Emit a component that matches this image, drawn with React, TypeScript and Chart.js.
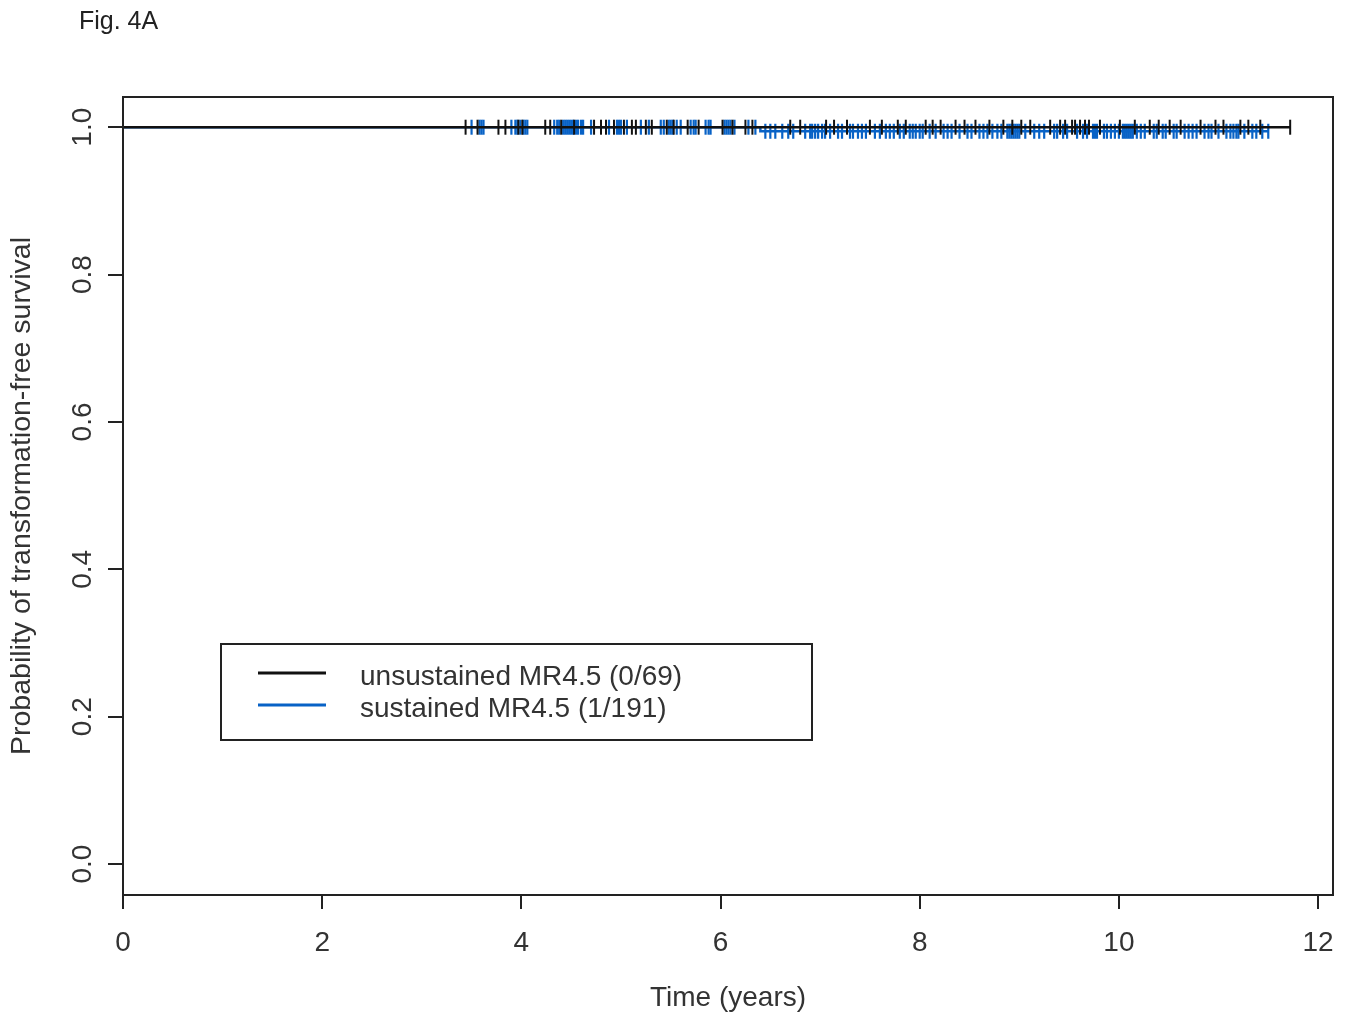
import React, { useEffect, useRef } from 'react';
import { Chart, registerables } from 'chart.js';

Chart.register(...registerables);

// ---- data ----
const figLabel = 'Fig. 4A';
const xTitle = 'Time (years)';
const yTitle = 'Probability of transformation-free survival';
const xTicks = [0, 2, 4, 6, 8, 10, 12];
const yTicks = [0, 0.2, 0.4, 0.6, 0.8, 1.0];
const seriesLabels = ['unsustained MR4.5 (0/69)', 'sustained MR4.5 (1/191)'];
const seriesColors = ['#111111', '#0862c6'];

// unsustained: no events, survival stays 1.0
const unsustainedEventTimes: number[] = [];
const unsustainedSurvival = [1.0];
const unsustainedEnd = 11.72;
const unsustainedCensor = [
  3.44, 3.56, 3.77, 3.84, 3.97, 4.01, 4.24, 4.29, 4.40, 4.53, 4.73, 4.80, 4.85, 4.93,
  5.03, 5.11, 5.15, 5.25, 5.31, 5.46, 5.53, 5.67, 5.78, 6.02, 6.12, 6.25, 6.32,
  6.70, 6.80, 7.06, 7.14, 7.27, 7.50, 7.62, 7.78, 7.86, 8.06, 8.13, 8.21, 8.36, 8.45,
  8.56, 8.70, 8.84, 8.93, 9.02, 9.11, 9.31, 9.41, 9.46, 9.53, 9.56, 9.61, 9.66, 9.70,
  9.81, 10.01, 10.16, 10.31, 10.40, 10.51, 10.62, 10.82, 10.97, 11.05, 11.22, 11.30,
  11.42, 11.72,
];

// sustained: one event
const sustainedEventTimes = [6.40];
const sustainedSurvival = [1.0, 0.9945];
const sustainedEnd = 11.5;
const sustainedCensor = [
  3.50, 3.58, 3.60, 3.62, 3.90, 3.94, 3.96, 3.99, 4.02, 4.04, 4.06, 4.33, 4.36, 4.38,
  4.42, 4.44, 4.46, 4.48, 4.50, 4.52, 4.55, 4.57, 4.60, 4.62, 4.70, 4.88, 4.96, 4.98,
  5.00, 5.06, 5.20, 5.28, 5.40, 5.43, 5.48, 5.50, 5.52, 5.56, 5.60, 5.70, 5.73, 5.75,
  5.85, 5.88, 5.90, 6.04, 6.06, 6.08, 6.10, 6.14, 6.28, 6.35,
  6.45, 6.50, 6.55, 6.62, 6.68, 6.73, 6.85, 6.90, 6.92, 6.95, 6.98, 7.02, 7.05, 7.10,
  7.18, 7.22, 7.30, 7.33, 7.38, 7.42, 7.46, 7.55, 7.60, 7.66, 7.70, 7.74, 7.80, 7.84,
  7.90, 7.93, 7.96, 8.00, 8.03, 8.10, 8.16, 8.24, 8.28, 8.32, 8.40, 8.48, 8.52, 8.60,
  8.64, 8.68, 8.73, 8.78, 8.82, 8.88, 8.90, 8.92, 8.94, 8.96, 8.98, 9.00, 9.06, 9.15,
  9.20, 9.25, 9.35, 9.38, 9.44, 9.48, 9.58, 9.64, 9.68, 9.74, 9.76, 9.78, 9.85, 9.88,
  9.92, 9.96, 10.00, 10.04, 10.06, 10.08, 10.10, 10.12, 10.14, 10.18, 10.22, 10.26,
  10.35, 10.38, 10.44, 10.47, 10.55, 10.58, 10.66, 10.70, 10.74, 10.78, 10.86, 10.90,
  10.93, 11.00, 11.08, 11.12, 11.15, 11.18, 11.20, 11.26, 11.34, 11.38, 11.44, 11.50,
];

// ---- helpers ----
const survAt = (t: number, events: number[], surv: number[]) => {
  let k = 0;
  for (const e of events) if (e <= t) k++;
  return surv[k];
};
const stepPoints = (events: number[], surv: number[], end: number) => {
  const pts = [{ x: 0, y: surv[0] }];
  events.forEach((e, i) => {
    pts.push({ x: e, y: surv[i] });
    pts.push({ x: e, y: surv[i + 1] });
  });
  pts.push({ x: end, y: surv[surv.length - 1] });
  return pts;
};

const FONT = '"Liberation Sans", Arial, sans-serif';
const TEXT = '#333333';
const AXIS = '#222222';

const decorPlugin = {
  id: 'decor',
  afterDraw(chart: any) {
    const { ctx, chartArea: a, scales } = chart;
    ctx.save();
    // plot box
    ctx.strokeStyle = AXIS;
    ctx.lineWidth = 2;
    ctx.strokeRect(a.left, a.top, a.right - a.left, a.bottom - a.top);
    // y tick labels (parallel to axis)
    ctx.fillStyle = TEXT;
    ctx.font = `28px ${FONT}`;
    ctx.textAlign = 'center';
    ctx.textBaseline = 'middle';
    yTicks.forEach((v) => {
      const y = scales.y.getPixelForValue(v);
      ctx.save();
      ctx.translate(a.left - 40, y);
      ctx.rotate(-Math.PI / 2);
      ctx.fillText(v.toFixed(1), 0, 0);
      ctx.restore();
    });
    // figure label
    ctx.textAlign = 'left';
    ctx.textBaseline = 'alphabetic';
    ctx.font = `25px ${FONT}`;
    ctx.fillStyle = '#222';
    ctx.fillText(figLabel, 79, 29);
    // legend
    const lx = a.left + 98, ly = 644, lw = 591, lh = 96;
    ctx.strokeStyle = AXIS;
    ctx.lineWidth = 2;
    ctx.strokeRect(lx, ly, lw, lh);
    ctx.font = `28px ${FONT}`;
    ctx.textBaseline = 'middle';
    seriesLabels.forEach((lab, i) => {
      const yy = ly + 29 + i * 32;
      ctx.strokeStyle = seriesColors[i];
      ctx.lineWidth = 3;
      ctx.beginPath();
      ctx.moveTo(lx + 37, yy);
      ctx.lineTo(lx + 105, yy);
      ctx.stroke();
      ctx.fillStyle = TEXT;
      ctx.fillText(lab, lx + 139, yy + 4);
    });
    ctx.restore();
  },
};

export default function App() {
  const ref = useRef<HTMLCanvasElement>(null);
  useEffect(() => {
    if (!ref.current) return;
    const censorPts = (times: number[], ev: number[], sv: number[]) =>
      times.map((t) => ({ x: t, y: survAt(t, ev, sv) }));
    const chart = new Chart(ref.current, {
      type: 'scatter',
      data: {
        datasets: [
          {
            label: seriesLabels[0],
            data: stepPoints(unsustainedEventTimes, unsustainedSurvival, unsustainedEnd),
            showLine: true,
            borderColor: seriesColors[0],
            borderWidth: 2.5,
            pointRadius: 0,
          },
          {
            label: seriesLabels[0] + ' censored',
            data: censorPts(unsustainedCensor, unsustainedEventTimes, unsustainedSurvival),
            showLine: false,
            pointStyle: 'line',
            rotation: 90,
            pointRadius: 7.5,
            borderColor: seriesColors[0],
            borderWidth: 2,
          },
          {
            label: seriesLabels[1],
            data: stepPoints(sustainedEventTimes, sustainedSurvival, sustainedEnd),
            showLine: true,
            borderColor: seriesColors[1],
            borderWidth: 2.5,
            pointRadius: 0,
          },
          {
            label: seriesLabels[1] + ' censored',
            data: censorPts(sustainedCensor, sustainedEventTimes, sustainedSurvival),
            showLine: false,
            pointStyle: 'line',
            rotation: 90,
            pointRadius: 7.5,
            borderColor: seriesColors[1],
            borderWidth: 2.2,
          },
        ],
      },
      options: {
        animation: false,
        responsive: false,
        devicePixelRatio: 1,
        layout: { padding: { top: 97, right: 20, left: 0, bottom: 0 } },
        plugins: { legend: { display: false }, tooltip: { enabled: false } },
        scales: {
          x: {
            type: 'linear',
            min: 0,
            max: 12.15,
            afterBuildTicks: (s: any) => {
              s.ticks = xTicks.map((v) => ({ value: v }));
            },
            afterFit: (s: any) => {
              s.height = 127;
            },
            grid: {
              display: true,
              drawOnChartArea: false,
              drawTicks: true,
              tickLength: 14,
              color: AXIS,
              lineWidth: 2,
            },
            border: { display: false },
            ticks: {
              padding: 17,
              color: TEXT,
              font: { family: FONT, size: 28 },
              maxRotation: 0,
              callback: (v: any) => String(v),
            },
            title: {
              display: true,
              text: xTitle,
              color: TEXT,
              font: { family: FONT, size: 28 },
              padding: { top: 0, bottom: 7 },
            },
          },
          y: {
            type: 'linear',
            min: -0.042,
            max: 1.041,
            afterBuildTicks: (s: any) => {
              s.ticks = yTicks.map((v) => ({ value: v }));
            },
            afterFit: (s: any) => {
              s.width = 123;
            },
            grid: {
              display: true,
              drawOnChartArea: false,
              drawTicks: true,
              tickLength: 15,
              color: AXIS,
              lineWidth: 2,
            },
            border: { display: false },
            ticks: { display: false },
            title: {
              display: true,
              text: yTitle,
              color: TEXT,
              font: { family: FONT, size: 28.5 },
              padding: { top: 5, bottom: 0 },
            },
          },
        },
      },
      plugins: [decorPlugin],
    } as any);
    return () => chart.destroy();
  }, []);
  return (
    <div style={{ position: 'fixed', left: 0, top: 0, width: 1353, height: 1022, background: '#fff' }}>
      <canvas ref={ref} width={1353} height={1022} />
    </div>
  );
}
